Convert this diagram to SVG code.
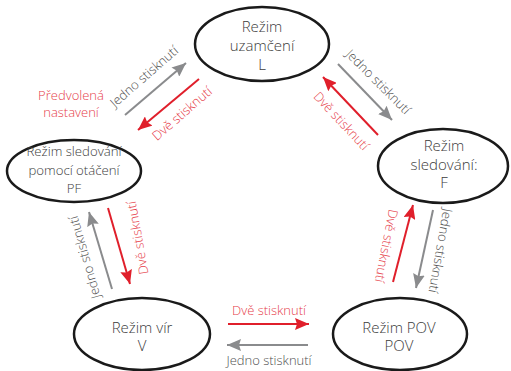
<svg xmlns="http://www.w3.org/2000/svg" width="511" height="371" viewBox="0 0 511 371">
<style>
.node{fill:#fff;stroke:#1a1a1a;stroke-width:2.5}
.nt{font-family:"Open Sans","Liberation Sans",sans-serif;font-weight:300;font-size:15px;fill:#3c3c3c;text-anchor:middle}
.ns{font-size:13.2px}
.lb{font-family:"Open Sans","Liberation Sans",sans-serif;font-weight:300;font-size:13px;text-anchor:middle}
.lg{fill:#505050}
.lr{fill:#e6404a}
.ag{stroke:#8a8b8d;stroke-width:2;fill:none;marker-end:url(#mg)}
.ar{stroke:#e01f2b;stroke-width:2;fill:none;marker-end:url(#mr)}
</style>
<defs>
<marker id="mg" markerUnits="userSpaceOnUse" markerWidth="16" markerHeight="12" refX="14" refY="6" orient="auto">
<path d="M0,0 L14,6 L0,12 L2,6 z" fill="#8a8b8d"/>
</marker>
<marker id="mr" markerUnits="userSpaceOnUse" markerWidth="16" markerHeight="12" refX="14" refY="6" orient="auto">
<path d="M0,0 L14,6 L0,12 L2,6 z" fill="#e01f2b"/>
</marker>
</defs>
<rect width="511" height="371" fill="#fff"/>
<g id="connectors">
<line class="ag" x1="125" y1="115" x2="186" y2="63"/>
<line class="ar" x1="199" y1="79" x2="138" y2="130"/>
<line class="ag" x1="338" y1="64" x2="392" y2="120"/>
<line class="ar" x1="378" y1="135" x2="323" y2="77"/>
<line class="ag" x1="112" y1="289" x2="89" y2="212"/>
<line class="ar" x1="108" y1="208" x2="130" y2="284"/>
<line class="ar" x1="393" y1="282" x2="413" y2="205"/>
<line class="ag" x1="433" y1="210" x2="416" y2="288"/>
<line class="ar" x1="228" y1="324" x2="309" y2="324"/>
<line class="ag" x1="308" y1="345" x2="227" y2="345"/>
<text class="lb lg" transform="translate(147,80) rotate(-41)">Jedno stisknutí</text>
<text class="lb lr" transform="translate(185,117) rotate(-41)">Dvě stisknutí</text>
<text class="lb lr" x="71" y="100">Předvolená</text>
<text class="lb lr" x="71" y="117">nastavení</text>
<text class="lb lg" transform="translate(375,85) rotate(45)">Jedno stisknutí</text>
<text class="lb lr" transform="translate(338,124) rotate(47)">Dvě stisknutí</text>
<text class="lb lg" transform="translate(89,256) rotate(-106)">Jedno stisknutí</text>
<text class="lb lr" transform="translate(142,237) rotate(-100)">Dvě stisknutí</text>
<text class="lb lr" transform="translate(382,245) rotate(101)">Dvě stisknutí</text>
<text class="lb lg" transform="translate(436,250) rotate(100)">Jedno stisknutí</text>
<text class="lb lr" x="269" y="315">Dvě stisknutí</text>
<text class="lb lg" x="269" y="365">Jedno stisknutí</text>
</g>
<g id="node-L">
<ellipse class="node" cx="262" cy="44" rx="67" ry="37"/>
<text class="nt" x="262" y="32">Režim</text>
<text class="nt" x="262" y="51">uzamčení</text>
<text class="nt" x="262" y="70">L</text>
</g>
<g id="node-PF">
<ellipse class="node" cx="74" cy="171" rx="67" ry="31"/>
<text class="nt ns" x="74" y="156">Režim sledování</text>
<text class="nt ns" x="74" y="174.5">pomocí otáčení</text>
<text class="nt ns" x="74" y="193">PF</text>
</g>
<g id="node-F">
<ellipse class="node" cx="443" cy="166" rx="65" ry="37"/>
<text class="nt" x="444" y="151">Režim</text>
<text class="nt" x="444" y="170">sledování:</text>
<text class="nt" x="444" y="188">F</text>
</g>
<g id="node-V">
<ellipse class="node" cx="142" cy="334" rx="68" ry="36"/>
<text class="nt" x="142" y="333">Režim vír</text>
<text class="nt" x="142" y="351">V</text>
</g>
<g id="node-POV">
<ellipse class="node" cx="400" cy="334" rx="67" ry="36"/>
<text class="nt" x="399" y="333">Režim POV</text>
<text class="nt" x="399" y="351">POV</text>
</g>
</svg>
